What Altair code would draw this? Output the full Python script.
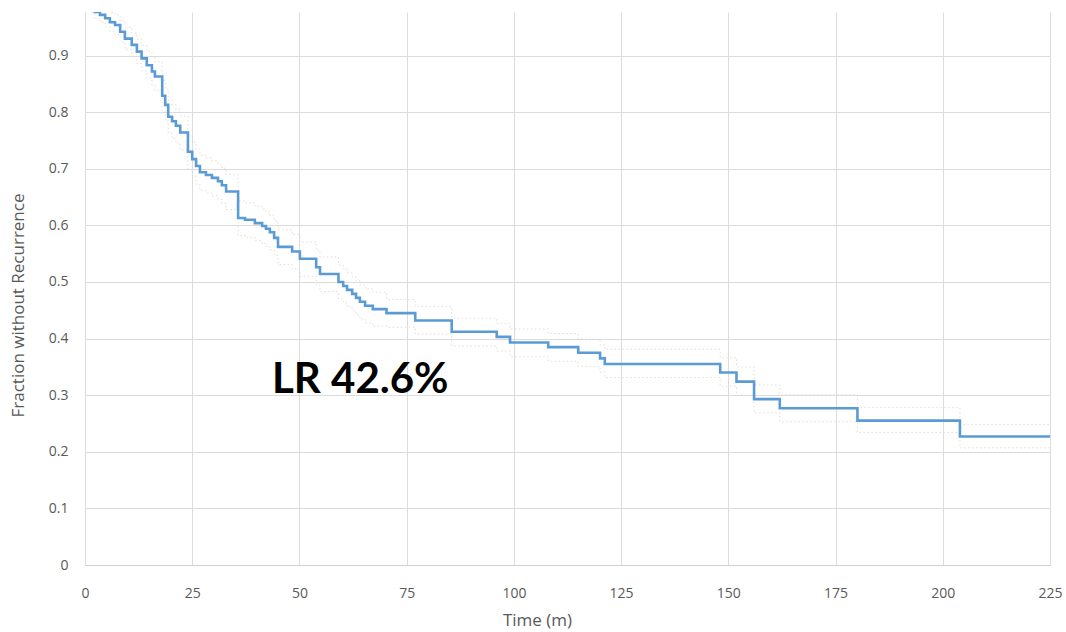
import altair as alt
import pandas as pd

# Kaplan-Meier estimate of recurrence-free fraction (months), with 95% CI
times = [0, 0.8, 1.6, 2.3, 3.5, 4.7, 5.8, 7.0, 8.2, 9.3,
         10.9, 12.1, 13.2, 14.4, 15.6, 16.3, 18.0, 18.7, 19.4, 20.3,
         21.2, 22.2, 24.0, 25.0, 25.9, 26.8, 28.2, 29.6, 31.0, 31.9,
         32.9, 35.7, 37.3, 39.6, 41.3, 42.2, 43.1, 44.1, 45.0, 48.3,
         50.1, 53.9, 54.8, 59.1, 60.2, 61.1, 62.3, 63.2, 64.1, 65.3,
         67.1, 70.3, 77.0, 85.5, 96.0, 99.1, 108.0, 115.0, 120.1, 121.2,
         148.1, 151.9, 156.0, 162.0, 180.1, 204.0, 225.0]

survival = [1.0, 0.993, 0.985, 0.977, 0.972, 0.966, 0.959, 0.954, 0.942, 0.930,
            0.919, 0.907, 0.895, 0.883, 0.872, 0.863, 0.829, 0.813, 0.792, 0.784,
            0.776, 0.764, 0.730, 0.717, 0.705, 0.694, 0.689, 0.684, 0.678, 0.671,
            0.660, 0.613, 0.610, 0.604, 0.599, 0.594, 0.588, 0.578, 0.562, 0.554,
            0.541, 0.526, 0.514, 0.500, 0.493, 0.486, 0.479, 0.472, 0.465, 0.458,
            0.452, 0.445, 0.432, 0.412, 0.403, 0.393, 0.385, 0.375, 0.365, 0.355,
            0.340, 0.324, 0.293, 0.277, 0.255, 0.227, 0.227]

upper_ci = [1.0, 1.0, 0.996, 0.991, 0.987, 0.982, 0.976, 0.972, 0.961, 0.950,
            0.940, 0.929, 0.918, 0.907, 0.897, 0.889, 0.856, 0.841, 0.821, 0.813,
            0.805, 0.793, 0.760, 0.747, 0.735, 0.724, 0.719, 0.714, 0.708, 0.701,
            0.690, 0.643, 0.640, 0.634, 0.629, 0.624, 0.618, 0.608, 0.592, 0.584,
            0.571, 0.556, 0.544, 0.530, 0.523, 0.516, 0.509, 0.502, 0.495, 0.488,
            0.482, 0.469, 0.457, 0.436, 0.427, 0.417, 0.409, 0.399, 0.389, 0.381,
            0.366, 0.350, 0.318, 0.301, 0.278, 0.248, 0.248]

lower_ci = [1.0, 0.987, 0.976, 0.966, 0.959, 0.951, 0.943, 0.937, 0.924, 0.911,
            0.899, 0.886, 0.873, 0.860, 0.848, 0.838, 0.802, 0.785, 0.763, 0.754,
            0.746, 0.733, 0.699, 0.686, 0.673, 0.662, 0.657, 0.652, 0.646, 0.639,
            0.628, 0.582, 0.579, 0.573, 0.568, 0.563, 0.557, 0.547, 0.531, 0.523,
            0.510, 0.495, 0.483, 0.470, 0.463, 0.456, 0.449, 0.442, 0.435, 0.428,
            0.422, 0.420, 0.408, 0.387, 0.378, 0.368, 0.360, 0.351, 0.341, 0.331,
            0.316, 0.300, 0.269, 0.253, 0.234, 0.207, 0.207]

x_ticks = [0, 25, 50, 75, 100, 125, 150, 175, 200, 225]
y_ticks = [0, 0.1, 0.2, 0.3, 0.4, 0.5, 0.6, 0.7, 0.8, 0.9]

annotation_text = ["LR 42.6%"]
annotation_x = [43.6]
annotation_y = [0.304]

FONT = "Open Sans"
LABEL_COLOR = "#595959"
GRID_COLOR = "#dcdcdc"

km = pd.DataFrame({"t": times, "s": survival})
ci = pd.concat([
    pd.DataFrame({"t": times, "s": upper_ci, "band": "upper"}),
    pd.DataFrame({"t": times, "s": lower_ci, "band": "lower"}),
])
note = pd.DataFrame({"x": annotation_x, "y": annotation_y, "text": annotation_text})

x_scale = alt.Scale(domain=[0, 225], nice=False, zero=False)
y_scale = alt.Scale(domain=[0, 0.977], nice=False)

x_axis = alt.Axis(
    values=x_ticks, title="Time (m)", grid=True, ticks=False, tickSize=0,
    domain=True, domainColor="#cfcfcf", labelPadding=21, labelFontSize=14,
    labelFlush=False, labelOverlap=False,
    labelColor=LABEL_COLOR, labelFont=FONT, titleFont=FONT, titleFontSize=17,
    titleFontWeight="normal", titleColor=LABEL_COLOR, titleX=452, titleY=55,
    titleBaseline="middle", titleAnchor="start", titleAlign="center",
    gridColor=GRID_COLOR,
)
y_axis = alt.Axis(
    values=y_ticks, title="Fraction without Recurrence", grid=True, ticks=False,
    tickSize=0, domain=False, labelPadding=17, labelFontSize=14,
    labelFlush=False, labelOverlap=False,
    labelExpr="datum.value == 0 ? '0' : format(datum.value, '.1f')",
    labelColor=LABEL_COLOR, labelFont=FONT, titleFont=FONT, titleFontSize=17,
    titleFontWeight="normal", titleColor=LABEL_COLOR, titleX=-67, titleY=293,
    titleBaseline="middle", titleAlign="center", titleAngle=270,
    gridColor=GRID_COLOR,
)

ci_lines = alt.Chart(ci).mark_line(
    interpolate="step-after", strokeWidth=1, strokeDash=[1.5, 2.5],
    color="#dcd3ca", clip=True, opacity=0.8,
).encode(
    x=alt.X("t:Q", scale=x_scale, axis=x_axis),
    y=alt.Y("s:Q", scale=y_scale, axis=y_axis),
    detail="band:N",
)

curve = alt.Chart(km).mark_line(
    interpolate="step-after", strokeWidth=2.6, color="#5b9bd5", clip=True,
).encode(
    x=alt.X("t:Q", scale=x_scale),
    y=alt.Y("s:Q", scale=y_scale),
)

label = alt.Chart(note).mark_text(
    font="Lato", fontWeight="bold", fontSize=42, color="#000000",
    align="left", baseline="alphabetic",
).encode(
    x=alt.X("x:Q", scale=x_scale),
    y=alt.Y("y:Q", scale=y_scale),
    text="text:N",
)

chart = alt.layer(ci_lines, curve, label).properties(
    width=965, height=553,
    autosize=alt.AutoSizeParams(type="none"),
    padding={"left": 85, "top": 12, "right": 16, "bottom": 67},
    background="#ffffff",
).configure_view(stroke=None)

chart.save("out.html", embed_options={"renderer": "svg", "actions": False})
